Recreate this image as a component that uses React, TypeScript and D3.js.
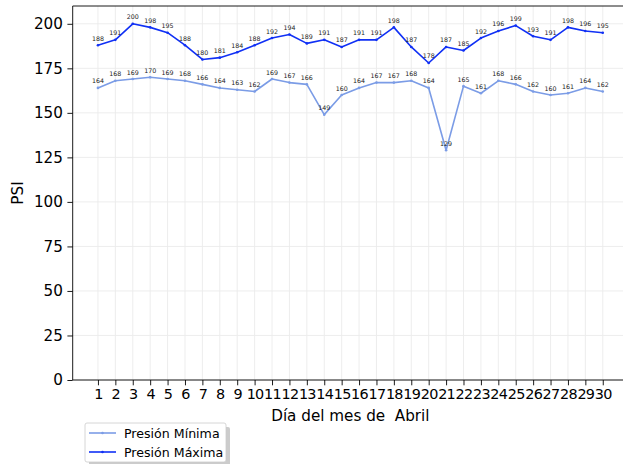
import React, {useEffect, useRef} from 'react';
import * as d3 from 'd3';

// dias del mes de abril
const days = d3.range(1, 31);
// presion minima y maxima por dia
const presionMin = [164, 168, 169, 170, 169, 168, 166, 164, 163, 162, 169, 167, 166, 149, 160, 164, 167, 167, 168, 164, 129, 165, 161, 168, 166, 162, 160, 161, 164, 162];
const presionMax = [188, 191, 200, 198, 195, 188, 180, 181, 184, 188, 192, 194, 189, 191, 187, 191, 191, 198, 187, 178, 187, 185, 192, 196, 199, 193, 191, 198, 196, 195];
const yTicks = [0, 25, 50, 75, 100, 125, 150, 175, 200];
const seriesNames = ['Presión Mínima', 'Presión Máxima'];
const seriesColors = ['#7b9ce6', '#1030f5'];

const W = 623;
const H = 464;

const App: React.FC = () => {
  const svgRef = useRef<SVGSVGElement>(null);

  useEffect(() => {
    const svg = d3.select(svgRef.current);
    svg.selectAll('*').remove();
    const font = 'DejaVu Sans, sans-serif';
    const fs = 15.2;

    // area del grafico
    const left = 72.7;
    const right = 628;
    const top = 6;
    const bottom = 380;

    const x = d3.scaleLinear().domain([-0.45, 31.45]).range([left, right]);
    const y = d3.scaleLinear().domain([0, 210]).range([bottom, top]);

    const g = svg.append('g');

    // grid
    g.selectAll('.vgrid')
      .data(days)
      .enter()
      .append('line')
      .attr('x1', (d) => x(d))
      .attr('x2', (d) => x(d))
      .attr('y1', top)
      .attr('y2', bottom)
      .attr('stroke', '#ebebeb')
      .attr('stroke-width', 0.9);
    g.selectAll('.hgrid')
      .data(yTicks)
      .enter()
      .append('line')
      .attr('x1', left)
      .attr('x2', right)
      .attr('y1', (d) => y(d))
      .attr('y2', (d) => y(d))
      .attr('stroke', '#ebebeb')
      .attr('stroke-width', 0.9);

    // series
    const line = d3
      .line<number>()
      .x((_, i) => x(days[i]))
      .y((d) => y(d));
    [presionMin, presionMax].forEach((serie, k) => {
      g.append('path')
        .datum(serie)
        .attr('d', line)
        .attr('fill', 'none')
        .attr('stroke', seriesColors[k])
        .attr('stroke-width', 1.6)
        .attr('stroke-linejoin', 'round');
      g.selectAll('.dot' + k)
        .data(serie)
        .enter()
        .append('circle')
        .attr('cx', (_, i) => x(days[i]))
        .attr('cy', (d) => y(d))
        .attr('r', 1.3)
        .attr('fill', seriesColors[k]);
      g.selectAll('.lbl' + k)
        .data(serie)
        .enter()
        .append('text')
        .attr('x', (_, i) => x(days[i]))
        .attr('y', (d) => y(d) - 4.5)
        .attr('text-anchor', 'middle')
        .attr('font-family', font)
        .attr('font-size', 6.3)
        .attr('fill', '#222')
        .text((d) => d);
    });

    // ejes
    const axisColor = '#000';
    g.append('line')
      .attr('x1', left)
      .attr('x2', left)
      .attr('y1', top)
      .attr('y2', bottom)
      .attr('stroke', axisColor)
      .attr('stroke-width', 0.9);
    g.append('line')
      .attr('x1', left)
      .attr('x2', right)
      .attr('y1', bottom)
      .attr('y2', bottom)
      .attr('stroke', axisColor)
      .attr('stroke-width', 0.9);
    g.append('line')
      .attr('x1', left)
      .attr('x2', right)
      .attr('y1', top)
      .attr('y2', top)
      .attr('stroke', axisColor)
      .attr('stroke-width', 0.9);

    const xAxis = d3
      .axisBottom(x)
      .tickValues(days)
      .tickSize(5.3)
      .tickPadding(3)
      .tickFormat((d) => String(d));
    const gx = g.append('g').attr('transform', `translate(0,${bottom})`).call(xAxis);
    gx.select('.domain').remove();
    // etiquetas apretadas como en el original
    gx.selectAll('text')
      .attr('font-family', font)
      .attr('font-size', 14.4)
      .attr('letter-spacing', -0.7)
      .attr('fill', '#000');
    gx.selectAll('line').attr('stroke', '#000').attr('stroke-width', 0.9);

    const yAxis = d3.axisLeft(y).tickValues(yTicks).tickSize(5.3).tickPadding(4.5);
    const gy = g.append('g').attr('transform', `translate(${left},0)`).call(yAxis);
    gy.select('.domain').remove();
    gy.selectAll('text').attr('font-family', font).attr('font-size', fs).attr('fill', '#000');
    gy.selectAll('line').attr('stroke', '#000').attr('stroke-width', 0.9);

    // etiquetas de ejes
    g.append('text')
      .attr('x', (left + right) / 2)
      .attr('y', 421)
      .attr('text-anchor', 'middle')
      .attr('font-family', font)
      .attr('font-size', fs)
      .style('white-space', 'pre')
      .text('Día del mes de  Abril');
    g.append('text')
      .attr('transform', `translate(23.3,${(top + bottom) / 2}) rotate(-90)`)
      .attr('text-anchor', 'middle')
      .attr('font-family', font)
      .attr('font-size', fs)
      .text('PSI');

    // leyenda con sombra
    const lx = 85;
    const ly = 423;
    const lw = 141;
    const lh = 39;
    g.append('rect')
      .attr('x', lx + 4)
      .attr('y', ly + 4)
      .attr('width', lw)
      .attr('height', lh)
      .attr('rx', 2)
      .attr('fill', '#999')
      .attr('opacity', 0.5);
    g.append('rect')
      .attr('x', lx)
      .attr('y', ly)
      .attr('width', lw)
      .attr('height', lh)
      .attr('rx', 2)
      .attr('fill', '#fff')
      .attr('stroke', '#cccccc')
      .attr('stroke-width', 0.8);
    seriesNames.forEach((name, k) => {
      const yy = ly + 10 + k * 19;
      g.append('line')
        .attr('x1', lx + 4)
        .attr('x2', lx + 31)
        .attr('y1', yy)
        .attr('y2', yy)
        .attr('stroke', seriesColors[k])
        .attr('stroke-width', 1.6);
      g.append('circle')
        .attr('cx', lx + 17.5)
        .attr('cy', yy)
        .attr('r', 1.3)
        .attr('fill', seriesColors[k]);
      g.append('text')
        .attr('x', lx + 39)
        .attr('y', yy + 4.5)
        .attr('font-family', font)
        .attr('font-size', 12.6)
        .attr('fill', '#000')
        .text(name);
    });
  }, []);

  return (
    <div style={{position: 'absolute', left: 0, top: 0}}>
      <svg ref={svgRef} width={W} height={H} style={{display: 'block', background: '#fff'}}></svg>
    </div>
  );
};

export default App;
